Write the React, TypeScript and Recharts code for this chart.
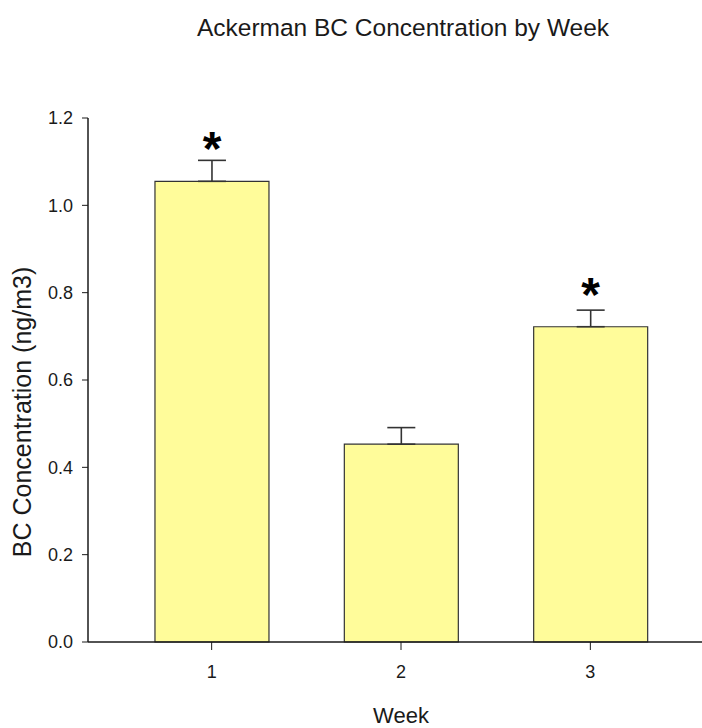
import { BarChart, Bar, XAxis, YAxis, ErrorBar, LabelList, Label } from 'recharts';

// BC concentration per week, with standard error and significance marks
const weeks = [1, 2, 3];
const concentration = [1.055, 0.453, 0.722];
const stdError = [0.048, 0.038, 0.038];
const significant = ['*', '', '*'];
const yTicks = [0, 0.2, 0.4, 0.6, 0.8, 1.0, 1.2];
const xDomain = [0.347, 3.653];

const data = weeks.map((w, i) => ({
  week: w,
  bc: concentration[i],
  err: [0, stdError[i]],
  sig: significant[i],
}));

const FONT = '"Liberation Sans", Arial, sans-serif';
const INK = '#1a1a1a';

function Star(props: any) {
  const { x, y, width, value } = props;
  if (!value) return null;
  return (
    <text
      x={x + width / 2}
      y={y - 43 + 27}
      textAnchor="middle"
      fontSize={48}
      fontWeight="bold"
      fontFamily={FONT}
      fill="#000"
    >
      {value}
    </text>
  );
}

function YTitle(props: any) {
  const { viewBox } = props;
  const cx = 22;
  const cy = viewBox.y + viewBox.height / 2 + 32;
  return (
    <text
      x={cx}
      y={cy}
      transform={`rotate(-90, ${cx}, ${cy})`}
      textAnchor="middle"
      dominantBaseline="central"
      fontSize={25}
      fontFamily={FONT}
      fill={INK}
    >
      BC Concentration (ng/m3)
    </text>
  );
}

export default function App() {
  return (
    <div
      style={{
        position: 'absolute',
        left: 0,
        top: 0,
        width: 702,
        height: 728,
        overflow: 'hidden',
        background: '#fff',
        fontFamily: FONT,
      }}
    >
      <div
        style={{
          position: 'absolute',
          left: 403,
          top: 15,
          transform: 'translateX(-50%)',
          whiteSpace: 'nowrap',
          fontSize: 24.5,
          lineHeight: '25px',
          color: INK,
        }}
      >
        Ackerman BC Concentration by Week
      </div>
      <BarChart
        width={714}
        height={728}
        data={data}
        margin={{ top: 118, right: 0, bottom: 0, left: 0 }}
        style={{ position: 'absolute', left: 0, top: 0 }}
      >
        <XAxis
          xAxisId="top"
          orientation="top"
          type="number"
          dataKey="week"
          domain={xDomain}
          height={0}
          tick={false}
          tickLine={false}
          axisLine={{ stroke: INK, strokeWidth: 1.5 }}
        />
        <XAxis
          dataKey="week"
          type="number"
          domain={xDomain}
          ticks={weeks}
          height={86}
          tickSize={8}
          tickMargin={15}
          axisLine={{ stroke: INK, strokeWidth: 1.5 }}
          tickLine={{ stroke: INK }}
          tick={{ fontSize: 18, fill: INK, fontFamily: FONT }}
        >
          <Label
            value="Week"
            position="insideBottom"
            offset={5}
            style={{ fontSize: 22, fill: INK, fontFamily: FONT }}
          />
        </XAxis>
        <YAxis
          domain={[0, 1.2]}
          ticks={yTicks}
          width={88}
          tickSize={6}
          tickMargin={9}
          tickFormatter={(v: number) => v.toFixed(1)}
          axisLine={{ stroke: INK, strokeWidth: 1.5 }}
          tickLine={{ stroke: INK }}
          tick={{ fontSize: 18, fill: INK, fontFamily: FONT }}
        >
          <Label content={YTitle} />
        </YAxis>
        <Bar
          dataKey="bc"
          barSize={114}
          fill="#fffc9a"
          stroke="#333"
          strokeWidth={1.2}
          isAnimationActive={false}
        >
          <ErrorBar dataKey="err" width={14} stroke="#333" strokeWidth={1.6} />
          <LabelList dataKey="sig" content={Star} />
        </Bar>
      </BarChart>
    </div>
  );
}
